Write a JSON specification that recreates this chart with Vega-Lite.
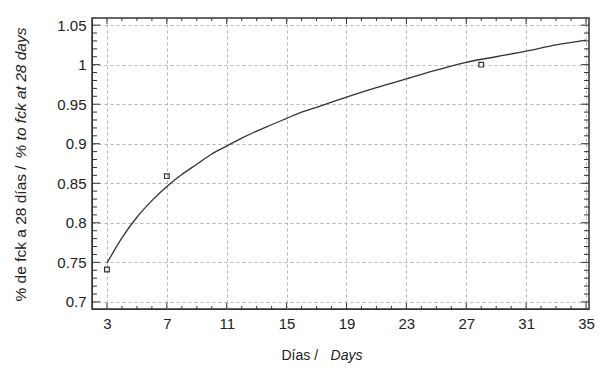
{
  "$schema": "https://vega.github.io/schema/vega-lite/v6.json",
  "width": 497,
  "height": 291,
  "autosize": {"type": "none"},
  "padding": {"left": 92, "top": 18, "right": 14, "bottom": 67},
  "background": "white",
  "datasets": {
    "curve": [
      {"day": 3, "val": 0.749},
      {"day": 4, "val": 0.781},
      {"day": 5, "val": 0.807},
      {"day": 6, "val": 0.828},
      {"day": 7, "val": 0.846},
      {"day": 8, "val": 0.861},
      {"day": 9, "val": 0.874},
      {"day": 10, "val": 0.887},
      {"day": 11, "val": 0.897},
      {"day": 12, "val": 0.907},
      {"day": 13, "val": 0.916},
      {"day": 14, "val": 0.924},
      {"day": 15, "val": 0.932},
      {"day": 16, "val": 0.940},
      {"day": 17, "val": 0.946},
      {"day": 19, "val": 0.959},
      {"day": 21, "val": 0.971},
      {"day": 23, "val": 0.982},
      {"day": 25, "val": 0.993},
      {"day": 27, "val": 1.003},
      {"day": 29, "val": 1.010},
      {"day": 31, "val": 1.017},
      {"day": 33, "val": 1.025},
      {"day": 35, "val": 1.031}
    ],
    "obs": [
      {"day": 3, "val": 0.741},
      {"day": 7, "val": 0.859},
      {"day": 28, "val": 1.0}
    ],
    "xmajor": [{"t": 3}, {"t": 7}, {"t": 11}, {"t": 15}, {"t": 19}, {"t": 23}, {"t": 27}, {"t": 31}, {"t": 35}],
    "xminor": [{"t": 4}, {"t": 5}, {"t": 6}, {"t": 8}, {"t": 9}, {"t": 10}, {"t": 12}, {"t": 13}, {"t": 14}, {"t": 16}, {"t": 17}, {"t": 18}, {"t": 20}, {"t": 21}, {"t": 22}, {"t": 24}, {"t": 25}, {"t": 26}, {"t": 28}, {"t": 29}, {"t": 30}, {"t": 32}, {"t": 33}, {"t": 34}],
    "ymajor": [{"t": 0.7}, {"t": 0.75}, {"t": 0.8}, {"t": 0.85}, {"t": 0.9}, {"t": 0.95}, {"t": 1.0}, {"t": 1.05}],
    "yminor": [{"t": 0.71}, {"t": 0.72}, {"t": 0.73}, {"t": 0.74}, {"t": 0.76}, {"t": 0.77}, {"t": 0.78}, {"t": 0.79}, {"t": 0.81}, {"t": 0.82}, {"t": 0.83}, {"t": 0.84}, {"t": 0.86}, {"t": 0.87}, {"t": 0.88}, {"t": 0.89}, {"t": 0.91}, {"t": 0.92}, {"t": 0.93}, {"t": 0.94}, {"t": 0.96}, {"t": 0.97}, {"t": 0.98}, {"t": 0.99}, {"t": 1.01}, {"t": 1.02}, {"t": 1.03}, {"t": 1.04}]
  },
  "resolve": {"axis": {"x": "independent", "y": "independent"}},
  "layer": [
    {
      "data": {"name": "curve"},
      "mark": {"type": "line", "color": "#333333", "strokeWidth": 1.3, "interpolate": "monotone"},
      "encoding": {
        "x": {
          "field": "day", "type": "quantitative",
          "scale": {"domain": [2, 35.2], "nice": false, "zero": false},
          "axis": {
            "orient": "bottom", "values": [3, 7, 11, 15, 19, 23, 27, 31, 35],
            "ticks": false, "labelPadding": 7, "domainColor": "#333333",
            "grid": true, "gridColor": "#b5b5b5", "gridDash": [3, 3],
            "title": "Días / ", "titleAlign": "left", "titleAnchor": null,
            "titleX": 189, "titleY": 50, "titleBaseline": "alphabetic"
          }
        },
        "y": {
          "field": "val", "type": "quantitative",
          "scale": {"domain": [0.691, 1.059], "nice": false, "zero": false},
          "axis": {
            "orient": "left", "values": [0.7, 0.75, 0.8, 0.85, 0.9, 0.95, 1, 1.05],
            "format": ".2~f", "ticks": false, "labelPadding": 6, "domainColor": "#333333",
            "grid": true, "gridColor": "#b5b5b5", "gridDash": [3, 3],
            "title": "% de fck a 28 días /", "titleAlign": "left", "titleAngle": -90, "titleFontSize": 15.5,
            "titleX": -67, "titleY": 283, "titleBaseline": "alphabetic"
          }
        }
      }
    },
    {
      "data": {"name": "obs"},
      "mark": {"type": "point", "shape": "square", "size": 22, "filled": false, "stroke": "#333333", "strokeWidth": 1.2, "opacity": 1},
      "encoding": {
        "x": {
          "field": "day", "type": "quantitative",
          "axis": {
            "orient": "bottom", "values": [3], "ticks": false, "labels": false, "grid": false, "domain": false,
            "title": "Days", "titleFontStyle": "italic", "titleAlign": "right", "titleAnchor": null,
            "titleX": 270, "titleY": 50, "titleBaseline": "alphabetic"
          }
        },
        "y": {
          "field": "val", "type": "quantitative",
          "axis": {
            "orient": "left", "values": [0.7], "ticks": false, "labels": false, "grid": false, "domain": false,
            "title": "% to fck at 28 days", "titleFontStyle": "italic", "titleAlign": "right", "titleAngle": -90, "titleFontSize": 15.5,
            "titleX": -67, "titleY": 9, "titleBaseline": "alphabetic"
          }
        }
      }
    },
    {
      "data": {"name": "xmajor"},
      "mark": {"type": "rule", "color": "#333333", "strokeWidth": 1},
      "encoding": {
        "x": {"field": "t", "type": "quantitative", "axis": null},
        "y": {"datum": 0.691, "type": "quantitative", "axis": null},
        "y2": {"datum": 0.6986}
      }
    },
    {
      "data": {"name": "xminor"},
      "mark": {"type": "rule", "color": "#333333", "strokeWidth": 1},
      "encoding": {
        "x": {"field": "t", "type": "quantitative", "axis": null},
        "y": {"datum": 0.691, "type": "quantitative", "axis": null},
        "y2": {"datum": 0.6948}
      }
    },
    {
      "data": {"name": "xmajor"},
      "mark": {"type": "rule", "color": "#333333", "strokeWidth": 1},
      "encoding": {
        "x": {"field": "t", "type": "quantitative", "axis": null},
        "y": {"datum": 1.059, "type": "quantitative", "axis": null},
        "y2": {"datum": 1.0514}
      }
    },
    {
      "data": {"name": "xminor"},
      "mark": {"type": "rule", "color": "#333333", "strokeWidth": 1},
      "encoding": {
        "x": {"field": "t", "type": "quantitative", "axis": null},
        "y": {"datum": 1.059, "type": "quantitative", "axis": null},
        "y2": {"datum": 1.0552}
      }
    },
    {
      "data": {"name": "ymajor"},
      "mark": {"type": "rule", "color": "#333333", "strokeWidth": 1},
      "encoding": {
        "y": {"field": "t", "type": "quantitative", "axis": null},
        "x": {"datum": 2, "type": "quantitative", "axis": null},
        "x2": {"datum": 2.534}
      }
    },
    {
      "data": {"name": "yminor"},
      "mark": {"type": "rule", "color": "#333333", "strokeWidth": 1},
      "encoding": {
        "y": {"field": "t", "type": "quantitative", "axis": null},
        "x": {"datum": 2, "type": "quantitative", "axis": null},
        "x2": {"datum": 2.334}
      }
    },
    {
      "data": {"name": "ymajor"},
      "mark": {"type": "rule", "color": "#333333", "strokeWidth": 1},
      "encoding": {
        "y": {"field": "t", "type": "quantitative", "axis": null},
        "x": {"datum": 35.2, "type": "quantitative", "axis": null},
        "x2": {"datum": 34.666}
      }
    },
    {
      "data": {"name": "yminor"},
      "mark": {"type": "rule", "color": "#333333", "strokeWidth": 1},
      "encoding": {
        "y": {"field": "t", "type": "quantitative", "axis": null},
        "x": {"datum": 35.2, "type": "quantitative", "axis": null},
        "x2": {"datum": 34.866}
      }
    }
  ],
  "config": {
    "view": {"stroke": "#333333", "strokeWidth": 1.5},
    "axis": {
      "labelFont": "Liberation Sans", "labelFontSize": 15, "labelColor": "#222222",
      "titleFont": "Liberation Sans", "titleFontSize": 14, "titleFontWeight": "normal", "titleColor": "#222222"
    }
  }
}
